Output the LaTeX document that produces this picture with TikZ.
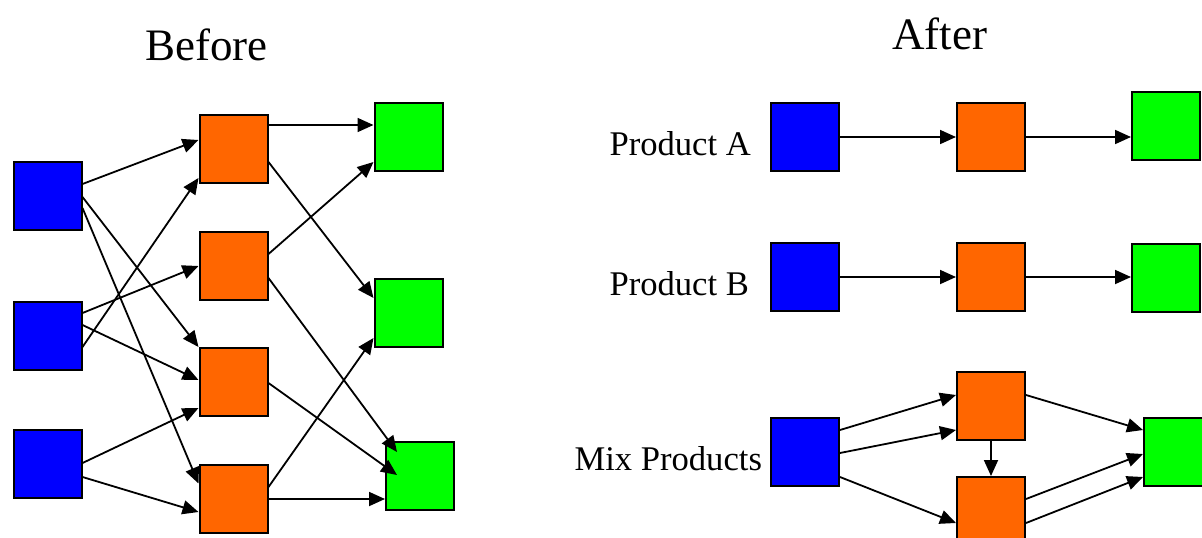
\documentclass[tikz,border=0pt]{standalone}
\usepackage{fontspec}
\setmainfont{Liberation Serif}
\usetikzlibrary{arrows.meta}
\definecolor{boxblue}{HTML}{0000FF}
\definecolor{boxorange}{HTML}{FF6600}
\definecolor{boxgreen}{HTML}{00FF00}
\tikzset{
  unit/.style={draw=black, line width=2pt, minimum width=68pt, minimum height=68pt, inner sep=0pt},
  src/.style={unit, fill=boxblue},
  mid/.style={unit, fill=boxorange},
  dst/.style={unit, fill=boxgreen},
  flow/.style={line width=1.8pt, -{Triangle[length=16pt,width=14pt]}},
  heading/.style={anchor=base, font=\fontsize{45}{52}\selectfont},
  label/.style={anchor=base west, font=\fontsize{34.6}{41}\selectfont},
}
\begin{document}
\begin{tikzpicture}[x=1pt, y=-1pt]
\useasboundingbox (0,0) rectangle (1202,538);
\begin{scope}
\clip (0,0) rectangle (1202,538);

% ---- Before: tangled routing ----
\node[heading] (tbefore) at (206.5,60) {Before};

\node[src] (b1) at (47.5,195.5) {};
\node[src] (b2) at (47.5,335.5) {};
\node[src] (b3) at (47.5,464) {};

\node[mid] (o1) at (233.5,149) {};
\node[mid] (o2) at (233.5,266) {};
\node[mid] (o3) at (233.5,382) {};
\node[mid] (o4) at (233.5,498.5) {};

\node[dst] (g1) at (408.5,137) {};
\node[dst] (g2) at (408.5,312.5) {};
\node[dst] (g3) at (420,475.5) {};

\draw[flow] ([yshift=11.5pt]b1.east) -- ([yshift=9pt]o1.west);
\draw[flow] ([yshift=-1.5pt]b1.east) -- (o3.north west);
\draw[flow] ([yshift=-12.5pt]b1.east) -- ([yshift=15pt]o4.west);
\draw[flow] ([yshift=22.5pt]b2.east) -- ([yshift=0pt]o2.west);
\draw[flow] ([yshift=10.5pt]b2.east) -- ([yshift=2pt]o3.west);
\draw[flow] ([yshift=-11.5pt]b2.east) -- ([yshift=-29pt]o1.west);
\draw[flow] ([yshift=1pt]b3.east) -- ([yshift=-26pt]o3.west);
\draw[flow] ([yshift=-13pt]b3.east) -- ([yshift=-13.5pt]o4.west);

\draw[flow] ([yshift=24pt]o1.east) -- ([yshift=12pt]g1.west);
\draw[flow] ([yshift=-13pt]o1.east) -- ([yshift=14.5pt]g2.west);
\draw[flow] ([yshift=12pt]o2.east) -- ([yshift=-25pt]g1.west);
\draw[flow] ([yshift=-12pt]o2.east) -- ([xshift=12pt,yshift=23.5pt]g3.west);
\draw[flow] ([yshift=-1pt]o3.east) -- ([xshift=12pt,yshift=0.5pt]g3.west);
\draw[flow] ([yshift=11.5pt]o4.east) -- ([yshift=-25.5pt]g2.west);
\draw[flow] ([yshift=-0.5pt]o4.east) -- ([yshift=-23.5pt]g3.west);

% ---- After: separated product lines ----
\node[heading] (tafter) at (939.5,49) {After};

\node[label] (la) at (606,155) {Product A};
\node[src] (ab) at (805,137) {};
\node[mid] (ao) at (991,137) {};
\node[dst] (ag) at (1166,126) {};
\draw[flow] (ab.east) -- (ao.west);
\draw[flow] (ao.east) -- (ao.east -| ag.west);

\node[label] (lb) at (606,295) {Product B};
\node[src] (bb) at (805,277) {};
\node[mid] (bo) at (991,277) {};
\node[dst] (bg) at (1166,277.5) {};
\draw[flow] (bb.east) -- (bo.west);
\draw[flow] (bo.east) -- (bo.east -| bg.west);

\node[label] (lm) at (571,470) {Mix Products};
\node[src] (mb) at (805,452) {};
\node[mid] (mt) at (991,406) {};
\node[mid] (mo) at (991,511) {};
\node[dst] (mg) at (1178,452) {};
\draw[flow] ([yshift=22pt]mb.east) -- ([yshift=11pt]mt.west);
\draw[flow] ([yshift=-1pt]mb.east) -- ([yshift=-24pt]mt.west);
\draw[flow] ([yshift=-25pt]mb.east) -- ([yshift=-12pt]mo.west);
\draw[flow] (mt.south) -- (mo.north);
\draw[flow] ([yshift=11pt]mt.east) -- ([yshift=22pt]mg.west);
\draw[flow] ([yshift=12pt]mo.east) -- ([yshift=-2pt]mg.west);
\draw[flow] ([yshift=-12pt]mo.east) -- ([yshift=-25pt]mg.west);
\end{scope}
\end{tikzpicture}
\end{document}
